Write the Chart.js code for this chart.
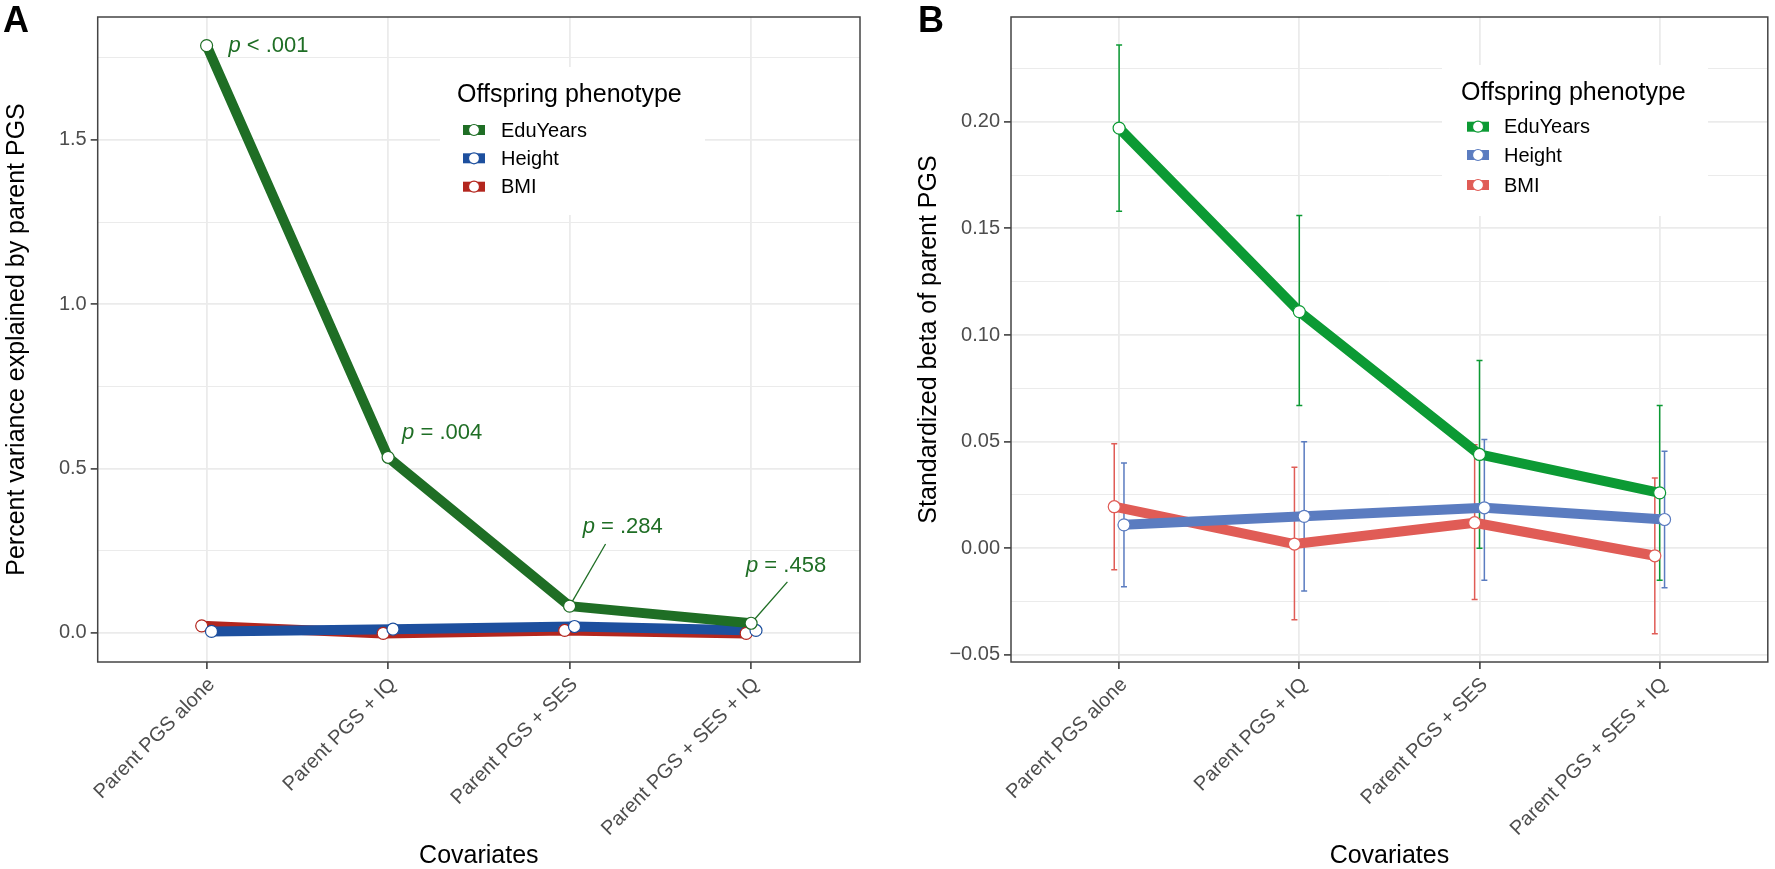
<!DOCTYPE html>
<html><head><meta charset="utf-8">
<script src="https://cdn.jsdelivr.net/npm/chart.js@4.4.1/dist/chart.umd.min.js"></script>
<style>
html,body{margin:0;padding:0;background:#fff;}
body{width:1775px;height:869px;position:relative;overflow:hidden;}
#ca{position:absolute;left:0;top:0;}
#cb{position:absolute;left:890px;top:0;}
</style></head><body>
<canvas id="ca" width="880" height="869"></canvas>
<canvas id="cb" width="885" height="869"></canvas>
<script>
// ---------- data ----------
const categories = ['Parent PGS alone', 'Parent PGS + IQ', 'Parent PGS + SES', 'Parent PGS + SES + IQ'];
const seriesNames = ['EduYears', 'Height', 'BMI'];

// Panel A: percent variance explained by parent PGS
const varEdu    = [1.787, 0.534, 0.081, 0.029];
const varHeight = [0.004, 0.011, 0.019, 0.007];
const varBMI    = [0.021, -0.002, 0.007, -0.002];
const pLabels   = ['< .001', '= .004', '= .284', '= .458'];
const yTicksA   = [0, 0.5, 1.0, 1.5];
const yTickLabelsA = ['0.0', '0.5', '1.0', '1.5'];

// Panel B: standardized beta of parent PGS (with CI)
const betaEdu      = [0.197, 0.111, 0.044, 0.026];
const betaEduLo    = [0.158, 0.067, 0.000, -0.015];
const betaEduHi    = [0.236, 0.156, 0.088, 0.067];
const betaHeight   = [0.011, 0.015, 0.019, 0.0135];
const betaHeightLo = [-0.018, -0.020, -0.015, -0.0185];
const betaHeightHi = [0.040, 0.050, 0.051, 0.0455];
const betaBMI      = [0.0195, 0.002, 0.012, -0.0035];
const betaBMILo    = [-0.010, -0.0335, -0.024, -0.040];
const betaBMIHi    = [0.049, 0.038, 0.0485, 0.033];
const yTicksB      = [-0.05, 0, 0.05, 0.10, 0.15, 0.20];
const yTickLabelsB = ['\u22120.05', '0.00', '0.05', '0.10', '0.15', '0.20'];

// ---------- styling ----------
const FAM = "'Liberation Sans', Arial, Helvetica, sans-serif";
const colorsA = {EduYears: '#1f6e25', Height: '#1d4f9e', BMI: '#b3261e'};
const colorsB = {EduYears: '#0c9a34', Height: '#5b7cc0', BMI: '#e05c56'};
const dodge = {EduYears: 0, Height: 0.027, BMI: -0.027};

function withMinor(major, min, max) {
  const out = [];
  const step = major[1] - major[0];
  const all = [major[0] - step / 2];
  major.forEach(v => { all.push(v); all.push(v + step / 2); });
  all.forEach(v => { if (v >= min && v <= max) out.push(+v.toFixed(6)); });
  return out;
}
function isMajor(v, major) { return major.some(m => Math.abs(m - v) < 1e-9); }

function pts(vals, name) { return vals.map((v, i) => ({x: i + dodge[name], y: v})); }

function buildDatasets(valsBy, colors) {
  const ds = [];
  const names = ['BMI', 'Height', 'EduYears'];
  const lineOrder = {BMI: 6, Height: 5, EduYears: 4};
  const ptOrder = {BMI: 3, Height: 2, EduYears: 1};
  names.forEach(n => {
    ds.push({label: n, data: pts(valsBy[n], n), borderColor: colors[n], borderWidth: 10,
      pointRadius: 0, borderCapStyle: 'butt', borderJoinStyle: 'round', order: lineOrder[n], tension: 0});
  });
  names.forEach(n => {
    ds.push({label: n + ' pts', data: pts(valsBy[n], n), showLine: false, pointRadius: 6,
      pointBorderWidth: 1.2, pointBackgroundColor: '#ffffff', pointBorderColor: colors[n], order: ptOrder[n]});
  });
  return ds;
}

function makeOptions(cfg) {
  const ticksAll = withMinor(cfg.yTicks, cfg.yMin, cfg.yMax);
  return {
    responsive: false, animation: false, devicePixelRatio: 1,
    layout: {padding: {top: 17, right: cfg.padRight, bottom: 0, left: 0}},
    plugins: {legend: {display: false}, tooltip: {enabled: false}},
    scales: {
      x: {
        type: 'linear', min: -0.6, max: 3.6,
        afterBuildTicks: s => { s.ticks = categories.map((c, i) => ({value: i})); },
        afterFit: s => { s.height = 207; s.paddingLeft = 0; s.paddingRight = 0; },
        ticks: {callback: v => categories[Math.round(v)], minRotation: 45, maxRotation: 45, autoSkip: false,
          font: {family: FAM, size: 20}, color: '#4d4d4d', padding: 4, labelOffset: 5},
        grid: {color: '#ebebeb', lineWidth: 1.8, tickLength: 7, tickColor: '#333333', tickWidth: 1.5},
        border: {display: false},
        title: {display: true, text: 'Covariates', color: '#000', font: {family: FAM, size: 25, lineHeight: 1}, padding: {top: 0, bottom: 0}}
      },
      y: {
        type: 'linear', min: cfg.yMin, max: cfg.yMax,
        afterBuildTicks: s => { s.ticks = ticksAll.map(v => ({value: v})); },
        afterFit: s => { s.width = cfg.yWidth; s.paddingTop = 0; s.paddingBottom = 0; },
        ticks: {autoSkip: false, font: {family: FAM, size: 20}, color: '#4d4d4d', padding: 4,
          callback: v => { const k = cfg.yTicks.findIndex(m => Math.abs(m - v) < 1e-9); return k >= 0 ? cfg.yTickLabels[k] : ''; }},
        grid: {
          color: '#ebebeb',
          lineWidth: c => (c.tick && isMajor(c.tick.value, cfg.yTicks)) ? 1.8 : 1,
          tickLength: 7,
          tickColor: c => (c.tick && isMajor(c.tick.value, cfg.yTicks)) ? '#333333' : 'rgba(0,0,0,0)',
          tickWidth: 1.5
        },
        border: {display: false},
        title: {display: true, text: cfg.yTitle, color: '#000', font: {family: FAM, size: 25, lineHeight: 1}, padding: {top: cfg.yTitlePad, bottom: 0}}
      }
    }
  };
}

// ---------- plugins ----------
const borderPlugin = {
  id: 'panelBorder',
  afterDraw(chart) {
    const {ctx, chartArea: a} = chart;
    ctx.save();
    ctx.strokeStyle = '#444444'; ctx.lineWidth = 1.5;
    ctx.strokeRect(a.left, a.top, a.right - a.left, a.bottom - a.top);
    ctx.restore();
  }
};

function panelLabelPlugin(letter, x) {
  return {
    id: 'panelLabel' + letter,
    afterDraw(chart) {
      const ctx = chart.ctx;
      ctx.save();
      ctx.fillStyle = '#000'; ctx.font = 'bold 36px ' + FAM; ctx.textBaseline = 'alphabetic'; ctx.textAlign = 'left';
      ctx.fillText(letter, x, 31.5);
      ctx.restore();
    }
  };
}

function legendPlugin(L, colors) {
  return {
    id: 'customLegend',
    afterDatasetsDraw(chart) {
      const ctx = chart.ctx;
      ctx.save();
      ctx.fillStyle = '#ffffff';
      ctx.fillRect(L.box[0], L.box[1], L.box[2] - L.box[0], L.box[3] - L.box[1]);
      ctx.fillStyle = '#000';
      ctx.font = '25px ' + FAM; ctx.textAlign = 'left'; ctx.textBaseline = 'alphabetic';
      ctx.fillText('Offspring phenotype', L.titleX, L.titleY);
      ctx.font = '20px ' + FAM; ctx.textBaseline = 'middle';
      seriesNames.forEach((n, i) => {
        const y = L.rows[i];
        ctx.fillStyle = colors[n];
        ctx.fillRect(L.keyX - 11, y - 5, 22, 10);
        ctx.beginPath(); ctx.arc(L.keyX, y, 5.5, 0, Math.PI * 2);
        ctx.fillStyle = '#fff'; ctx.fill();
        ctx.strokeStyle = colors[n]; ctx.lineWidth = 1.2; ctx.stroke();
        ctx.fillStyle = '#000';
        ctx.fillText(n, L.textX, y + 1);
      });
      ctx.restore();
    }
  };
}

// annotations for panel A (positions in data units)
const annA = [
  {text: pLabels[0], x: 0.12, y: 1.787},
  {text: pLabels[1], x: 1.077, y: 0.607},
  {text: pLabels[2], x: 2.072, y: 0.323, lx: 2.198, ly: 0.27, tx: 2, ty: varEdu[2]},
  {text: pLabels[3], x: 2.972, y: 0.204, lx: 3.2, ly: 0.155, tx: 3, ty: varEdu[3]}
];
const annotationPlugin = {
  id: 'pAnnotations',
  beforeDatasetsDraw(chart) {
    const {ctx, scales: {x, y}} = chart;
    ctx.save();
    ctx.strokeStyle = colorsA.EduYears; ctx.lineWidth = 1.3;
    annA.forEach(a => {
      if (a.lx === undefined) return;
      ctx.beginPath();
      ctx.moveTo(x.getPixelForValue(a.lx), y.getPixelForValue(a.ly));
      ctx.lineTo(x.getPixelForValue(a.tx), y.getPixelForValue(a.ty));
      ctx.stroke();
    });
    ctx.restore();
  },
  afterDatasetsDraw(chart) {
    const {ctx, scales: {x, y}} = chart;
    ctx.save();
    ctx.fillStyle = colorsA.EduYears; ctx.textBaseline = 'middle'; ctx.textAlign = 'left';
    annA.forEach(a => {
      const px = x.getPixelForValue(a.x), py = y.getPixelForValue(a.y);
      ctx.font = 'italic 22px ' + FAM;
      ctx.fillText('p', px, py);
      const w = ctx.measureText('p').width;
      ctx.font = '22px ' + FAM;
      ctx.fillText(' ' + a.text, px + w, py);
    });
    ctx.restore();
  }
};

const errSeries = [
  {name: 'BMI', lo: betaBMILo, hi: betaBMIHi},
  {name: 'Height', lo: betaHeightLo, hi: betaHeightHi},
  {name: 'EduYears', lo: betaEduLo, hi: betaEduHi}
];
const errorBarPlugin = {
  id: 'errorBars',
  beforeDatasetsDraw(chart) {
    const {ctx, scales: {x, y}} = chart;
    ctx.save();
    ctx.lineWidth = 1.5;
    errSeries.forEach(s => {
      ctx.strokeStyle = colorsB[s.name];
      s.lo.forEach((lo, i) => {
        const px = x.getPixelForValue(i + dodge[s.name]);
        const p1 = y.getPixelForValue(lo), p2 = y.getPixelForValue(s.hi[i]);
        ctx.beginPath();
        ctx.moveTo(px, p1); ctx.lineTo(px, p2);
        ctx.moveTo(px - 3, p1); ctx.lineTo(px + 3, p1);
        ctx.moveTo(px - 3, p2); ctx.lineTo(px + 3, p2);
        ctx.stroke();
      });
    });
    ctx.restore();
  }
};

// ---------- charts ----------
new Chart(document.getElementById('ca'), {
  type: 'line',
  data: {datasets: buildDatasets({EduYears: varEdu, Height: varHeight, BMI: varBMI}, colorsA)},
  options: makeOptions({yMin: -0.089, yMax: 1.874, yTicks: yTicksA, yTickLabels: yTickLabelsA,
    yWidth: 97.7, padRight: 20, yTitle: 'Percent variance explained by parent PGS', yTitlePad: 4.8}),
  plugins: [annotationPlugin,
    legendPlugin({box: [440, 67, 705, 215], titleX: 457, titleY: 101.5, keyX: 474, textX: 501, rows: [130, 158.3, 186.7]}, colorsA),
    borderPlugin, panelLabelPlugin('A', 3)]
});

new Chart(document.getElementById('cb'), {
  type: 'line',
  data: {datasets: buildDatasets({EduYears: betaEdu, Height: betaHeight, BMI: betaBMI}, colorsB)},
  options: makeOptions({yMin: -0.0533, yMax: 0.2491, yTicks: yTicksB, yTickLabels: yTickLabelsB,
    yWidth: 121, padRight: 3, yTitle: 'Standardized beta of parent PGS', yTitlePad: 26.8}),
  plugins: [errorBarPlugin,
    legendPlugin({box: [552, 65, 818, 216], titleX: 571, titleY: 99.5, keyX: 588, textX: 614, rows: [126.7, 155, 185]}, colorsB),
    borderPlugin, panelLabelPlugin('B', 28)]
});
</script>
</body></html>
